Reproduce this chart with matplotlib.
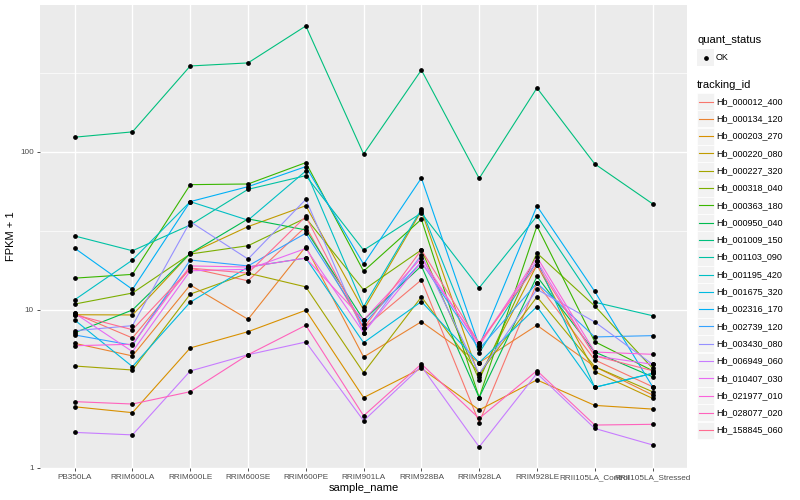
import numpy as np
import matplotlib
matplotlib.use('Agg')
import matplotlib.pyplot as plt
from matplotlib.patches import Rectangle
from matplotlib.lines import Line2D

plt.rcParams['font.family'] = ['Liberation Sans', 'DejaVu Sans']

samples = ['PB350LA', 'RRIM600LA', 'RRIM600LE', 'RRIM600SE', 'RRIM600PE', 'RRIM901LA',
           'RRIM928BA', 'RRIM928LA', 'RRIM928LE', 'RRII105LA_Control', 'RRII105LA_Stressed']

tracking_ids = ['Hb_000012_400', 'Hb_000134_120', 'Hb_000203_270', 'Hb_000220_080',
                'Hb_000227_320', 'Hb_000318_040', 'Hb_000363_180', 'Hb_000950_040',
                'Hb_001009_150', 'Hb_001103_090', 'Hb_001195_420', 'Hb_001675_320',
                'Hb_002316_170', 'Hb_002739_120', 'Hb_003430_080', 'Hb_006949_060',
                'Hb_010407_030', 'Hb_021977_010', 'Hb_028077_020', 'Hb_158845_060']

# ggplot default hue palette for 20 levels
colors = ['#F8766D', '#EA8331', '#D89000', '#C09B00', '#A3A500', '#7CAE00', '#39B600',
          '#00BB4E', '#00BF7D', '#00C1A3', '#00BFC4', '#00BAE0', '#00B0F6', '#35A2FF',
          '#9590FF', '#C77CFF', '#E76BF3', '#FA62DB', '#FF62BC', '#FF6C91']

# FPKM + 1, one row per tracking_id, one column per sample
fpkm = [
    [9.5, 6.65, 18.4, 15.3, 33.7, 7.66, 15.5, 1.94, 14.8, 4.83, 3.27],
    [6.15, 5.12, 14.4, 8.73, 25.2, 5.04, 8.43, 4.64, 8.0, 4.38, 2.9],
    [2.44, 2.24, 5.75, 7.29, 9.96, 2.79, 4.27, 2.33, 3.61, 2.49, 2.36],
    [9.33, 9.3, 22.8, 33.7, 45.7, 10.0, 42.4, 3.77, 19.3, 4.07, 2.76],
    [4.42, 4.17, 12.6, 17.1, 14.0, 4.01, 12.1, 3.94, 12.1, 4.38, 3.04],
    [10.9, 12.8, 22.6, 25.5, 38.2, 13.4, 24.0, 3.61, 22.9, 10.6, 4.28],
    [15.9, 16.8, 62.1, 62.7, 85.6, 17.6, 37.5, 2.79, 34.0, 6.3, 4.13],
    [7.18, 10.0, 22.8, 37.7, 32.1, 8.64, 19.0, 2.79, 16.3, 5.42, 3.78],
    [124, 134, 350, 366, 627, 97, 330, 68, 254, 84, 47],
    [29.4, 23.7, 34.5, 58.0, 70.8, 23.9, 41.1, 13.8, 39.3, 11.2, 9.2],
    [11.6, 20.7, 48.5, 37.0, 75.8, 10.5, 43.4, 5.34, 20.4, 3.24, 3.97],
    [8.64, 4.38, 11.2, 18.7, 21.3, 6.21, 11.3, 4.64, 10.5, 3.24, 3.97],
    [24.6, 13.5, 48.5, 60.3, 80.8, 19.5, 68.4, 5.92, 45.5, 13.1, 3.27],
    [6.95, 5.98, 20.7, 19.0, 30.6, 8.15, 20.1, 5.66, 14.8, 6.75, 6.88],
    [7.39, 7.96, 36.2, 21.0, 50.1, 7.18, 22.3, 3.94, 13.5, 8.4, 4.53],
    [1.68, 1.62, 4.11, 5.21, 6.27, 1.99, 4.4, 1.36, 3.97, 1.78, 1.40],
    [9.53, 5.45, 17.7, 18.1, 24.5, 7.18, 20.1, 6.15, 20.4, 5.12, 4.53],
    [5.94, 6.07, 19.0, 18.7, 21.3, 8.64, 21.3, 5.92, 21.6, 5.42, 5.24],
    [2.63, 2.54, 3.04, 5.21, 8.0, 2.14, 4.55, 2.06, 4.13, 1.87, 1.89],
    [9.33, 7.5, 18.4, 17.1, 39.1, 7.66, 24.0, 6.15, 19.3, 5.12, 4.13],
]

fig = plt.figure(figsize=(8, 5), dpi=100)
ax = fig.add_axes([0.05, 0.064, 0.809, 0.926])
ax.set_facecolor('#EBEBEB')

x = np.arange(1, len(samples) + 1)
for vals, col in zip(fpkm, colors):
    ax.plot(x, vals, color=col, lw=0.8, zorder=3)
for vals in fpkm:
    ax.plot(x, vals, 'o', color='black', ms=2.4, zorder=4)

ax.set_yscale('log')
ax.set_ylim(1.0, 851)
ax.set_xlim(0.4, 11.6)
ax.set_yticks([1, 10, 100])
ax.set_yticklabels(['1', '10', '100'])
ax.set_yticks([10 ** -0.5 * 10 ** k for k in range(1, 4)], minor=True)
ax.yaxis.set_minor_formatter(plt.NullFormatter())
ax.set_xticks(x)
ax.set_xticklabels(samples)
ax.grid(True, which='major', color='white', lw=1.0, zorder=0)
ax.grid(True, which='minor', axis='y', color='white', lw=0.5, zorder=0)
ax.set_axisbelow(True)
for s in ax.spines.values():
    s.set_visible(False)
ax.tick_params(axis='both', which='major', length=2.5, width=0.6, color='#333333',
               labelsize=5.9, labelcolor='#4D4D4D', pad=2)
ax.tick_params(axis='y', which='minor', length=0)
ax.set_xlabel('sample_name', fontsize=8, labelpad=1.5)
ax.set_ylabel('FPKM + 1', fontsize=8, labelpad=3)

# legend drawn in pixel coordinates, ggplot style
lg = fig.add_axes([0, 0, 1, 1], facecolor='none')
lg.set_xlim(0, 800)
lg.set_ylim(500, 0)
lg.axis('off')

lg.text(697, 40, 'quant_status', fontsize=8, va='center', ha='left')
lg.add_patch(Rectangle((697, 49), 17, 17, facecolor='#F2F2F2', edgecolor='none'))
lg.plot([705.5], [57.5], 'o', color='black', ms=2.4)
lg.text(716, 57.5, 'OK', fontsize=6.5, va='center', ha='left')

lg.text(697, 85, 'tracking_id', fontsize=8, va='center', ha='left')
for i, (tid, col) in enumerate(zip(tracking_ids, colors)):
    yc = 101.5 + i * 17.3
    lg.add_patch(Rectangle((697, yc - 8.5), 17, 17, facecolor='#F2F2F2', edgecolor='white', lw=0.5))
    lg.add_line(Line2D([698.5, 712.5], [yc, yc], color=col, lw=0.8))
    lg.text(716, yc, tid, fontsize=6.5, va='center', ha='left')

fig.savefig('out.png', dpi=100)
